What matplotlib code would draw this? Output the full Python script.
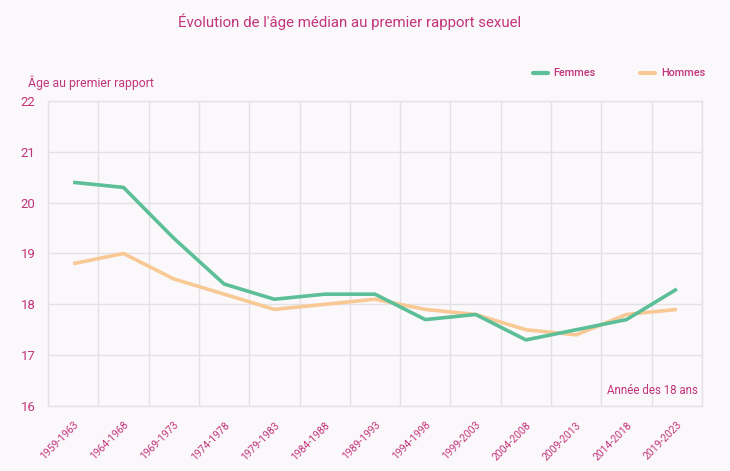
import matplotlib
matplotlib.use("Agg")
import matplotlib.pyplot as plt
from matplotlib.lines import Line2D
import numpy as np

categories = ["1959-1963", "1964-1968", "1969-1973", "1974-1978", "1979-1983", "1984-1988",
              "1989-1993", "1994-1998", "1999-2003", "2004-2008", "2009-2013", "2014-2018", "2019-2023"]
femmes = [20.4, 20.3, 19.3, 18.4, 18.1, 18.2, 18.2, 17.7, 17.8, 17.3, 17.5, 17.7, 18.3]
hommes = [18.8, 19.0, 18.5, 18.2, 17.9, 18.0, 18.1, 17.9, 17.8, 17.5, 17.4, 17.8, 17.9]
yticks = [16, 17, 18, 19, 20, 21, 22]
series_names = ["Femmes", "Hommes"]

plt.rcParams['font.family'] = ['Roboto', 'DejaVu Sans']

BG = "#fbf8fb"
TXT = "#c2357b"
GREEN = "#5cbf98"
ORANGE = "#f8c995"
GRID = "#e4e1e4"

fig = plt.figure(figsize=(7.30, 4.71), dpi=100, facecolor=BG)
ax = fig.add_axes([48/730, 65/471, 654/730, 305/471], facecolor=BG)

x = np.arange(len(categories))
ax.plot(x, femmes, color=GREEN, lw=2.6, solid_capstyle='butt', zorder=3)
ax.plot(x, hommes, color=ORANGE, lw=2.6, solid_capstyle='butt', zorder=2)

ax.set_xlim(-0.5, len(categories) - 0.5)
ax.set_ylim(16, 22)
ax.set_yticks(yticks)
ax.set_yticklabels([str(v) for v in yticks], color=TXT, fontsize=9.5)
ax.set_xticks(x)
ax.set_xticklabels(categories, rotation=45, ha='right', rotation_mode='anchor',
                   color=TXT, fontsize=7.5)
ax.set_xticks(np.arange(-0.5, len(categories)), minor=True)
ax.tick_params(axis='both', which='both', length=0)
ax.tick_params(axis='x', which='major', pad=10)
ax.tick_params(axis='y', pad=9)
ax.grid(True, axis='y', color=GRID, lw=1)
ax.grid(True, axis='x', which='minor', color=GRID, lw=1)
ax.grid(False, axis='x', which='major')
for s in ax.spines.values():
    s.set_color(GRID)
    s.set_linewidth(1)

ax.text(0.993, 0.03, "Année des 18 ans", transform=ax.transAxes, ha='right', va='bottom',
        color=TXT, fontsize=8.3)

fig.text(350/730, 1 - 22/471, "Évolution de l'âge médian au premier rapport sexuel",
         ha='center', va='center', color=TXT, fontsize=10.8)
fig.text(28/730, 1 - 83/471, "Âge au premier rapport", ha='left', va='center',
         color=TXT, fontsize=8.8)

# legend drawn manually
ly = 1 - 73/471
for (x0, x1, tx), col, name in zip([(533, 548, 553), (640, 655, 661)], [GREEN, ORANGE], series_names):
    fig.add_artist(Line2D([x0/730, x1/730], [ly, ly], transform=fig.transFigure,
                          color=col, lw=3, solid_capstyle='round'))
    fig.text(tx/730, ly, name, ha='left', va='center', color=TXT, fontsize=7.8,
             fontweight='medium')

fig.savefig("out.png", dpi=100, facecolor=BG)
